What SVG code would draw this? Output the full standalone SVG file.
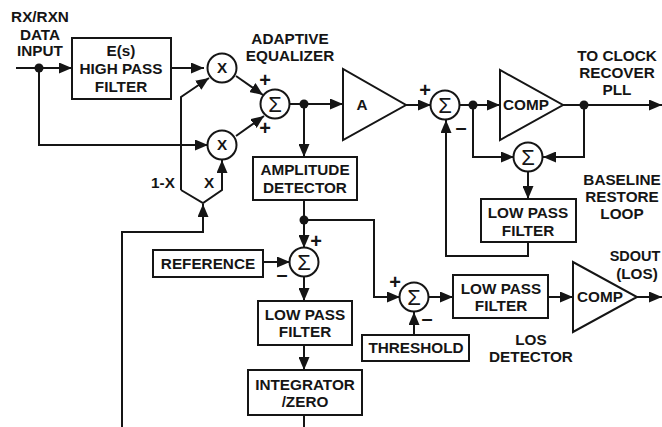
<svg xmlns="http://www.w3.org/2000/svg" width="662" height="427" viewBox="0 0 662 427">
<style>
.b{fill:#fff;stroke:#151515;stroke-width:2}
.c{fill:none;stroke:#151515;stroke-width:2;stroke-linejoin:miter}
.a{marker-end:url(#ah)}
.d{fill:#151515}
text{font-family:"Liberation Sans",Arial,sans-serif;font-weight:700;font-size:15.3px;fill:#151515;text-anchor:middle}
.s{font-weight:400;font-size:22px}
.p{font-size:20px}
.n{font-size:14.5px}
</style>
<defs>
<marker id="ah" markerUnits="userSpaceOnUse" markerWidth="13" markerHeight="11" refX="13" refY="5.5" orient="auto"><path d="M0 0L13 5.5L0 11Z" fill="#151515"/></marker>
</defs>
<rect width="662" height="427" fill="#fff"/>
<g id="connectors">
<path class="c a" d="M16 68H72"/>
<path class="c a" d="M39 68V145H208"/>
<path class="c a" d="M171 68H204"/>
<path class="c a" d="M181 190V97L209 78"/>
<path class="c a" d="M122 427V232H203V204"/>
<path class="c a" d="M181 190L203 203L222 190V160"/>
<path class="c a" d="M236 76L263 95"/>
<path class="c a" d="M236 136L264 116"/>
<path class="c a" d="M290 104H343"/>
<path class="c a" d="M304 104V157"/>
<path class="c a" d="M406 105H431"/>
<path class="c a" d="M460 105H500"/>
<path class="c a" d="M473 105V157H514"/>
<path class="c a" d="M563 105H662"/>
<path class="c a" d="M584 105V157H543"/>
<path class="c a" d="M528 172V199"/>
<path class="c a" d="M528 242V256H446V120"/>
<path class="c a" d="M304 200V248"/>
<path class="c a" d="M304 220H374V297H400"/>
<path class="c a" d="M263 262H290"/>
<path class="c a" d="M304 277V301"/>
<path class="c a" d="M304 345V370"/>
<path class="c" d="M304 415V427"/>
<path class="c a" d="M414 335V312"/>
<path class="c a" d="M429 297H453"/>
<path class="c a" d="M548 297H573"/>
<path class="c a" d="M637 297H662"/>
<circle class="d" cx="39" cy="68" r="4.5"/>
<circle class="d" cx="304" cy="104" r="4.5"/>
<circle class="d" cx="473" cy="105" r="4.5"/>
<circle class="d" cx="584" cy="105" r="4.5"/>
<circle class="d" cx="304" cy="220" r="4.5"/>
</g>
<g id="input-label"><text x="40" y="22">RX/RXN</text><text x="40" y="40">DATA</text><text x="40" y="56">INPUT</text></g>
<g id="highpass"><rect class="b" x="72" y="38" width="99" height="61"/><text x="121" y="56">E(s)</text><text x="121" y="74">HIGH PASS</text><text x="121" y="92">FILTER</text></g>
<g id="mult1"><circle class="b" cx="222" cy="68" r="14.5"/><text x="222" y="73">X</text></g>
<g id="mult2"><circle class="b" cx="222" cy="145" r="14.5"/><text x="222" y="150">X</text></g>
<g id="sum1"><circle class="b" cx="275" cy="104" r="14.5"/><text class="s" x="275" y="112">Σ</text></g>
<g id="labels-eq"><text x="290" y="44">ADAPTIVE</text><text x="290" y="61">EQUALIZER</text><text class="p" x="265" y="87">+</text><text class="p" x="265" y="135">+</text><text x="163" y="188">1-X</text><text x="209" y="188">X</text></g>
<g id="amp-det"><rect class="b" x="253" y="157" width="104" height="43"/><text x="305" y="175">AMPLITUDE</text><text x="305" y="193">DETECTOR</text></g>
<g id="amp"><path class="b" d="M343 69V140L406 105Z"/><text x="362" y="110">A</text></g>
<g id="sum4"><circle class="b" cx="445" cy="105" r="14.5"/><text class="s" x="445" y="113">Σ</text><text class="p" x="425" y="97">+</text><text class="p" x="461" y="134">–</text></g>
<g id="comp1"><path class="b" d="M500 70V140L563 105Z"/><text x="526" y="110">COMP</text></g>
<g id="clock-label"><text x="617" y="61">TO CLOCK</text><text x="617" y="78">RECOVER</text><text x="617" y="95">PLL</text></g>
<g id="sum5"><circle class="b" cx="528" cy="157" r="14.5"/><text class="s" x="528" y="165">Σ</text></g>
<g id="lpf2"><rect class="b" x="481" y="199" width="95" height="43"/><text x="528" y="218">LOW PASS</text><text x="528" y="236">FILTER</text></g>
<g id="baseline-label"><text x="622" y="185">BASELINE</text><text x="622" y="202">RESTORE</text><text x="622" y="219">LOOP</text></g>
<g id="sum2"><circle class="b" cx="304" cy="262" r="14.5"/><text class="s" x="304" y="270">Σ</text><text class="p" x="316" y="248">+</text><text class="p" x="282" y="281">–</text></g>
<g id="reference"><rect class="b" x="153" y="250" width="110" height="27"/><text x="208" y="269">REFERENCE</text></g>
<g id="lpf1"><rect class="b" x="258" y="301" width="94" height="44"/><text x="305" y="320">LOW PASS</text><text x="305" y="337">FILTER</text></g>
<g id="integrator"><rect class="b" x="248" y="370" width="114" height="45"/><text x="305" y="390">INTEGRATOR</text><text x="305" y="407">/ZERO</text></g>
<g id="sum3"><circle class="b" cx="414" cy="297" r="14.5"/><text class="s" x="414" y="305">Σ</text><text class="p" x="395" y="289">+</text><text class="p" x="427" y="325">–</text></g>
<g id="threshold"><rect class="b" x="362" y="335" width="107" height="26"/><text x="416" y="353">THRESHOLD</text></g>
<g id="lpf3"><rect class="b" x="453" y="275" width="95" height="43"/><text x="501" y="294">LOW PASS</text><text x="501" y="311">FILTER</text></g>
<g id="comp2"><path class="b" d="M573 262V332L637 297Z"/><text x="600" y="302">COMP</text></g>
<g id="sdout-label"><text class="n" x="635" y="261">SDOUT</text><text x="637" y="279">(LOS)</text></g>
<g id="los-label"><text x="531" y="345">LOS</text><text x="531" y="362">DETECTOR</text></g>
</svg>
